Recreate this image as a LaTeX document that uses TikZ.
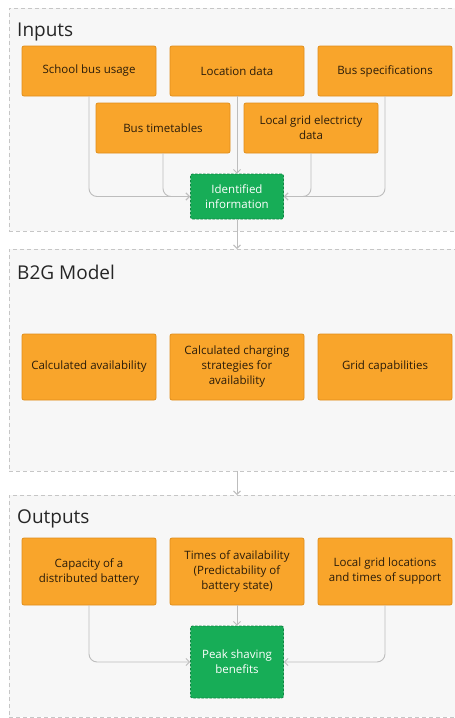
\documentclass[tikz,border=0pt]{standalone}
\usepackage{fontspec}
\setmainfont{Open Sans}
\usetikzlibrary{arrows.meta}

\definecolor{grpfill}{HTML}{F7F7F7}
\definecolor{grpline}{HTML}{C6C6C6}
\definecolor{boxfill}{HTML}{F9A52B}
\definecolor{boxline}{HTML}{E08E1A}
\definecolor{boxtext}{HTML}{2A1C0A}
\definecolor{okfill}{HTML}{17AD57}
\definecolor{okline}{HTML}{0E8742}
\definecolor{wire}{HTML}{BDBDBD}

\begin{document}
\begin{tikzpicture}[x=1pt, y=-1pt,
    group/.style={draw=grpline, fill=grpfill, dashed, dash pattern=on 4pt off 3pt,
        line width=0.9pt, inner sep=0pt, outer sep=0pt},
    grptitle/.style={anchor=base west, inner sep=0pt, text=black!85,
        font=\fontsize{19}{22}\selectfont},
    item/.style={draw=boxline, fill=boxfill, rounded corners=2pt, line width=0.8pt,
        minimum width=134pt, align=center, text=boxtext, inner sep=2pt,
        font=\fontsize{11.5}{15}\selectfont},
    result/.style={draw=okline, fill=okfill, dashed, dash pattern=on 2.5pt off 1.5pt,
        rounded corners=2pt, line width=0.8pt, minimum width=93pt, align=center,
        text=white, inner sep=2pt, font=\fontsize{11.5}{15}\selectfont},
    conn/.style={draw=wire, line width=0.9pt, rounded corners=8pt,
        -{Straight Barb[length=3.5pt, width=7pt]}}]

    \useasboundingbox[fill=white] (0,0) rectangle (455,718);

    % the three dashed groups
    \node[group, minimum width=453pt, minimum height=223pt] (ingrp) at (235.5,119.5) {};
    \node[group, minimum width=453pt, minimum height=222pt] (modgrp) at (235.5,360) {};
    \node[group, minimum width=453pt, minimum height=222pt] (outgrp) at (235.5,606) {};

    \node[grptitle] (intitle) at (17,36) {Inputs};
    \node[grptitle] (modtitle) at (17,279) {B2G Model};
    \node[grptitle] (outtitle) at (17,523) {Outputs};

    % inputs
    \node[item, minimum height=50pt] (usage) at (89,71) {School bus usage};
    \node[item, minimum height=50pt] (locdata) at (237,71) {Location data};
    \node[item, minimum height=50pt] (specs) at (385,71) {Bus specifications};
    \node[item, minimum height=50pt] (timetab) at (163,128) {Bus timetables};
    \node[item, minimum height=50pt] (gridel) at (311,128) {Local grid electricty\\data};
    \node[result, minimum height=45pt] (idinfo) at (237,196.5) {Identified\\information};

    \draw[conn] (usage.south) |- (idinfo.west);
    \draw[conn] (timetab.south) |- (idinfo.west);
    \draw[conn] (locdata.south) -- (idinfo.north);
    \draw[conn] (gridel.south) |- (idinfo.east);
    \draw[conn] (specs.south) |- (idinfo.east);

    % model
    \node[item, minimum height=66pt] (calcav) at (89,367) {Calculated availability};
    \node[item, minimum height=66pt] (chgstrat) at (237,367) {Calculated charging\\strategies for\\availability};
    \node[item, minimum height=66pt] (gridcap) at (385,367) {Grid capabilities};

    % outputs
    \node[item, minimum height=67pt] (capac) at (89,571.5) {Capacity of a\\distributed battery};
    \node[item, minimum height=67pt] (times) at (237,571.5) {Times of availability\\(Predictability of\\battery state)};
    \node[item, minimum height=67pt] (gridloc) at (385,571.5) {Local grid locations\\and times of support};
    \node[result, minimum height=72pt] (peak) at (237,662) {Peak shaving\\benefits};

    \draw[conn] (capac.south) |- (peak.west);
    \draw[conn] (times.south) -- (peak.north);
    \draw[conn] (gridloc.south) |- (peak.east);

    % between the groups
    \draw[conn] (idinfo.south) -- (idinfo.south |- modgrp.north);
    \draw[conn] (idinfo.south |- modgrp.south) -- (idinfo.south |- outgrp.north);
\end{tikzpicture}
\end{document}
